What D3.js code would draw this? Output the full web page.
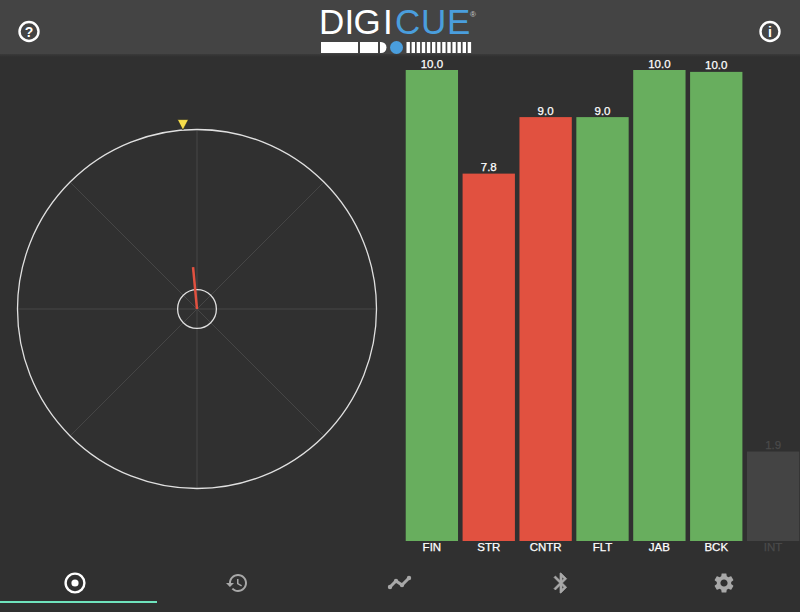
<!DOCTYPE html>
<html>
<head>
<meta charset="utf-8">
<script src="https://cdn.jsdelivr.net/npm/d3@7"></script>
<style>
  html, body { margin: 0; padding: 0; background: #303030; overflow: hidden; }
  svg { display: block; font-family: "Liberation Sans", Arial, sans-serif; }
</style>
</head>
<body>
<div class="canvas"></div>
<script>
// chart data
const categories = ['FIN', 'STR', 'CNTR', 'FLT', 'JAB', 'BCK', 'INT'];
const scores = [10.0, 7.8, 9.0, 9.0, 10.0, 9.96, 1.9];
const states = ['good', 'bad', 'bad', 'good', 'good', 'good', 'off'];

// target dial, angles in degrees clockwise from top, radii in percent
const spokeAngles = [0, 45, 90, 135, 180, 225, 270, 315];
const ringRadii = [100, 10.8];
const needleAngle = -5.4;
const needleLength = 23.4;
const markerAngle = -4.5;

const colors = { good: '#68ae5e', bad: '#e15140', off: '#444444' };
const labelColors = { good: '#ffffff', bad: '#ffffff', off: '#4a4a4a' };

const width = 800, height = 612;

const svg = d3.select('.canvas')
    .append('svg')
    .attr('width', width)
    .attr('height', height);

svg.append('rect').attr('width', width).attr('height', height).attr('fill', '#303030');

// header
const shadow = svg.append('defs').append('linearGradient')
    .attr('id', 'headerShadow').attr('x1', 0).attr('x2', 0).attr('y1', 0).attr('y2', 1);
shadow.append('stop').attr('offset', 0).attr('stop-color', '#3a3a3a');
shadow.append('stop').attr('offset', 1).attr('stop-color', '#303030');

svg.append('rect').attr('width', width).attr('height', 54).attr('fill', '#444444');
svg.append('rect').attr('y', 54).attr('width', width).attr('height', 3).attr('fill', 'url(#headerShadow)');

// logo, each letter placed by hand to get the wide spacing
const logo = svg.append('g');
logo.append('text')
    .attr('x', '319 344.5 353.5 383')
    .attr('y', 34)
    .attr('font-size', 35)
    .attr('fill', '#ffffff')
    .text('DIGI');
logo.append('text')
    .attr('x', '395 421 447')
    .attr('y', 34)
    .attr('font-size', 35)
    .attr('fill', '#4a9edd')
    .text('CUE');
logo.append('text')
    .attr('x', 470).attr('y', 17)
    .attr('font-size', 8)
    .attr('fill', '#cccccc')
    .text('®');
logo.append('rect').attr('x', 321).attr('y', 42).attr('width', 37).attr('height', 11).attr('fill', '#ffffff');
logo.append('rect').attr('x', 360).attr('y', 42).attr('width', 18).attr('height', 11).attr('fill', '#ffffff');
logo.append('path').attr('d', 'M380,42h1a5.5,5.5 0 0 1 0,11h-1z').attr('fill', '#ffffff');
logo.append('circle').attr('cx', 396.5).attr('cy', 47.5).attr('r', 6.5).attr('fill', '#4a9edd');
logo.selectAll('.tick-strip')
    .data(d3.range(13))
    .enter()
    .append('rect')
    .attr('class', 'tick-strip')
    .attr('x', i => 406.5 + i * 5.1)
    .attr('y', 42)
    .attr('width', 3.4)
    .attr('height', 11)
    .attr('fill', '#ffffff');

// dial
const dial = svg.append('g').attr('transform', 'translate(197,309)');
const radius = d3.scaleLinear().domain([0, 100]).range([0, 179.5]);
const angle = d3.scaleLinear().domain([0, 360]).range([0, 2 * Math.PI]);
const polar = (deg, pct) => [
    radius(pct) * Math.sin(angle(deg)),
    -radius(pct) * Math.cos(angle(deg))
];

dial.selectAll('.spoke')
    .data(spokeAngles)
    .enter()
    .append('line')
    .attr('class', 'spoke')
    .attr('x1', d => polar(d, 0)[0])
    .attr('y1', d => polar(d, 0)[1])
    .attr('x2', d => polar(d, 100)[0])
    .attr('y2', d => polar(d, 100)[1])
    .attr('stroke', '#464646')
    .attr('stroke-width', 1);

dial.selectAll('.ring')
    .data(ringRadii)
    .enter()
    .append('circle')
    .attr('class', 'ring')
    .attr('r', d => radius(d))
    .attr('fill', 'none')
    .attr('stroke', '#e0e0e0')
    .attr('stroke-width', 1.3);

dial.append('line')
    .attr('x1', 0).attr('y1', 0)
    .attr('x2', polar(needleAngle, needleLength)[0])
    .attr('y2', polar(needleAngle, needleLength)[1])
    .attr('stroke', '#e15140')
    .attr('stroke-width', 2.5);

const tip = polar(markerAngle, 100);
dial.append('path')
    .attr('d', d3.line()([[tip[0], tip[1]], [tip[0] - 5.5, tip[1] - 10.5], [tip[0] + 5.5, tip[1] - 10.5]]) + 'Z')
    .attr('fill', '#f6dd4b')
    .attr('stroke', '#222222')
    .attr('stroke-width', 0.6);

// bars
const baseY = 541;
const x = d3.scaleBand()
    .domain(categories)
    .range([404, 801])
    .paddingInner(0.08)
    .paddingOuter(0.03);
const y = d3.scaleLinear().domain([0, 10]).range([baseY, 70]);

svg.selectAll('.bar')
    .data(categories)
    .enter()
    .append('rect')
    .attr('class', 'bar')
    .attr('x', d => x(d))
    .attr('y', (d, i) => y(scores[i]))
    .attr('width', x.bandwidth())
    .attr('height', (d, i) => baseY - y(scores[i]))
    .attr('fill', (d, i) => colors[states[i]]);

svg.selectAll('.score')
    .data(categories)
    .enter()
    .append('text')
    .attr('class', 'score')
    .attr('x', d => x(d) + x.bandwidth() / 2)
    .attr('y', (d, i) => y(scores[i]) - 2.5)
    .attr('text-anchor', 'middle')
    .attr('font-size', 11.5)
    .attr('fill', (d, i) => labelColors[states[i]])
    .attr('stroke', (d, i) => labelColors[states[i]])
    .attr('stroke-width', 0.25)
    .text((d, i) => scores[i].toFixed(1));

const xAxis = d3.axisBottom(x).tickSize(0).tickPadding(0);
const xAxisGroup = svg.append('g')
    .attr('transform', `translate(0,${baseY})`)
    .call(xAxis);
xAxisGroup.select('.domain').remove();
xAxisGroup.selectAll('text')
    .attr('y', 2)
    .attr('font-family', '"Liberation Sans", Arial, sans-serif')
    .attr('font-size', 11.5)
    .attr('fill', (d, i) => labelColors[states[i]])
    .attr('stroke', (d, i) => labelColors[states[i]])
    .attr('stroke-width', 0.25);

// header round buttons
const helpBtn = svg.append('g').attr('transform', 'translate(29,31.5)');
helpBtn.append('circle').attr('r', 9.5).attr('fill', 'none').attr('stroke', '#ffffff').attr('stroke-width', 2.4);
helpBtn.append('text').attr('y', 5).attr('text-anchor', 'middle')
    .attr('font-size', 14).attr('font-weight', 'bold').attr('fill', '#ffffff').text('?');

const infoBtn = svg.append('g').attr('transform', 'translate(770,31.5)');
infoBtn.append('circle').attr('r', 9.5).attr('fill', 'none').attr('stroke', '#ffffff').attr('stroke-width', 2.4);
infoBtn.append('text').attr('y', 5).attr('text-anchor', 'middle')
    .attr('font-size', 14).attr('font-weight', 'bold').attr('fill', '#ffffff').text('i');

// bottom tabs
const tabPaths = {
    history: 'M13 3c-4.97 0-9 4.03-9 9H1l3.89 3.89.07.14L9 12H6c0-3.87 3.13-7 7-7s7 3.13 7 7-3.13 7-7 7c-1.93 0-3.68-.79-4.94-2.06l-1.42 1.42C8.27 19.99 10.51 21 13 21c4.97 0 9-4.03 9-9s-4.03-9-9-9zm-1 5v5l4.28 2.54.72-1.21-3.5-2.08V8H12z',
    bluetooth: 'M17.71 7.71L12 2h-1v7.59L6.41 5 5 6.41 10.59 12 5 17.59 6.41 19 11 14.41V22h1l5.71-5.71-4.3-4.29 4.3-4.29zM13 5.83l1.88 1.88L13 9.59V5.83zm1.88 10.46L13 18.17v-3.76l1.88 1.88z',
    settings: 'M19.14,12.94c0.04-0.3,0.06-0.61,0.06-0.94c0-0.32-0.02-0.64-0.07-0.94l2.03-1.58c0.18-0.14,0.23-0.41,0.12-0.61l-1.92-3.32c-0.12-0.22-0.37-0.29-0.59-0.22l-2.39,0.96c-0.5-0.38-1.03-0.7-1.62-0.94L14.4,2.81c-0.04-0.24-0.24-0.41-0.48-0.41h-3.84c-0.24,0-0.43,0.17-0.47,0.41L9.25,5.35C8.66,5.59,8.12,5.92,7.63,6.29L5.24,5.33c-0.22-0.08-0.47,0-0.59,0.22L2.74,8.87C2.62,9.08,2.66,9.34,2.86,9.48l2.03,1.58C4.84,11.36,4.8,11.69,4.8,12s0.02,0.64,0.07,0.94l-2.03,1.58c-0.18,0.14-0.23,0.41-0.12,0.61l1.92,3.32c0.12,0.22,0.37,0.29,0.59,0.22l2.39-0.96c0.5,0.38,1.03,0.7,1.62,0.94l0.36,2.54c0.05,0.24,0.24,0.41,0.48,0.41h3.84c0.24,0,0.44-0.17,0.47-0.41l0.36-2.54c0.59-0.24,1.13-0.56,1.62-0.94l2.39,0.96c0.22,0.08,0.47,0,0.59-0.22l1.92-3.32c0.12-0.22,0.07-0.47-0.12-0.61L19.14,12.94z M12,15.6c-1.98,0-3.6-1.62-3.6-3.6s1.62-3.6,3.6-3.6s3.6,1.62,3.6,3.6S13.98,15.6,12,15.6z'
};

const targetTab = svg.append('g').attr('transform', 'translate(75,583)');
targetTab.append('circle').attr('r', 9.4).attr('fill', 'none').attr('stroke', '#ffffff').attr('stroke-width', 2.4);
targetTab.append('circle').attr('r', 3.6).attr('fill', '#ffffff');

svg.append('path').attr('d', tabPaths.history)
    .attr('transform', 'translate(225,571)').attr('fill', '#a8a8a8');
svg.append('path').attr('d', tabPaths.bluetooth)
    .attr('transform', 'translate(549,571)').attr('fill', '#a8a8a8')
    .attr('stroke', '#a8a8a8').attr('stroke-width', 0.7);
svg.append('path').attr('d', tabPaths.settings)
    .attr('transform', 'translate(712,571)').attr('fill', '#a8a8a8');

svg.append('path')
    .attr('d', 'M390,587L396,581L402,585L409,578')
    .attr('fill', 'none')
    .attr('stroke', '#a8a8a8')
    .attr('stroke-width', 3);
svg.selectAll('.trend-dot')
    .data([[390, 587], [396, 581], [402, 585], [409, 578]])
    .enter()
    .append('circle')
    .attr('class', 'trend-dot')
    .attr('cx', d => d[0])
    .attr('cy', d => d[1])
    .attr('r', 2.2)
    .attr('fill', '#a8a8a8');

// active tab underline
svg.append('rect')
    .attr('x', 0).attr('y', 601)
    .attr('width', 157).attr('height', 2)
    .attr('fill', '#6fe3bd');
</script>
</body>
</html>
